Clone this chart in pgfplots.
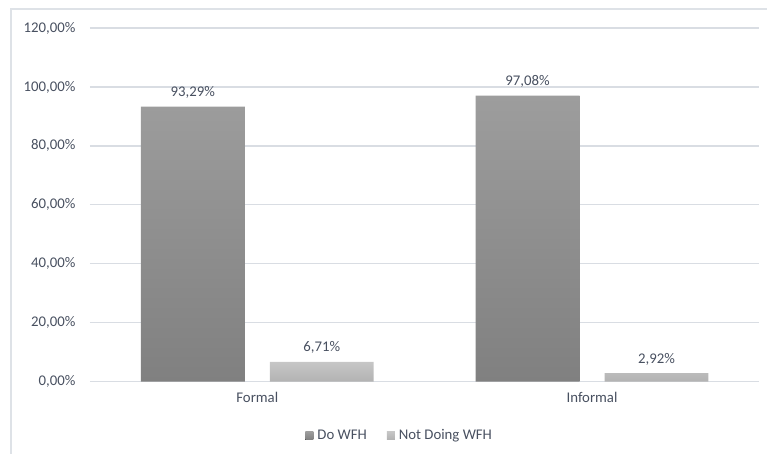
\documentclass[border=0pt]{standalone}
\usepackage{pgfplots}
\pgfplotsset{compat=1.18}
\usepackage{fontspec}
\setmainfont{Carlito}
\definecolor{txt}{RGB}{72,80,96}
\definecolor{gridc}{RGB}{217,221,227}
\definecolor{framec}{RGB}{222,226,231}
\begin{document}
\begin{tikzpicture}
\path (0pt,0pt) rectangle (768pt,454pt);
\draw[framec, line width=1.2pt] (11pt,0pt) -- (11pt,445pt) -- (768pt,445pt);
\begin{axis}[
  at={(90pt,72pt)}, anchor=south west,
  scale only axis, width=670pt, height=354pt,
  ymin=0, ymax=120, ytick={0,20,...,120},
  xmin=-0.5, xmax=1.5, xtick={0,1}, xticklabels={Formal,Informal},
  ybar=25pt, bar width=104pt,
  axis line style={draw=none},
  ymajorgrids=true, xmajorgrids=false,
  grid style={gridc, line width=1.3pt},
  major tick length=0pt,
  /pgf/number format/assume math mode=true,
  tick label style={font=\fontsize{14.8}{16}\selectfont, text=txt},
  yticklabel={\pgfmathprintnumber[fixed,fixed zerofill,precision=2,use comma]{\tick}\%},
  yticklabel style={xshift=-11pt},
  xticklabel style={yshift=-7pt},
  nodes near coords={\pgfmathprintnumber[fixed,fixed zerofill,precision=2,use comma]{\pgfplotspointmeta}\%},
  nodes near coords style={font=\fontsize{14.8}{16}\selectfont, text=txt, anchor=south, inner sep=0pt, yshift=8pt},
  legend style={at={(0.4627,-0.1525)}, anchor=center, legend columns=2, draw=none, fill=none,
    font=\fontsize{14.8}{16}\selectfont, text=txt,
    /tikz/every even column/.append style={column sep=18pt}},
  legend cell align=left,
  legend image code/.code={\fill[#1] (0pt,-4pt) rectangle (8pt,4pt); \path (10pt,0pt);},
]
\addplot[draw=none, top color={rgb,255:red,157;green,157;blue,157}, bottom color={rgb,255:red,128;green,128;blue,128}]
  coordinates {(0,93.29) (1,97.08)};
\addplot[draw=none, top color={rgb,255:red,198;green,198;blue,198}, bottom color={rgb,255:red,178;green,178;blue,178}]
  coordinates {(0,6.71) (1,2.92)};
\legend{Do WFH, Not Doing WFH}
\end{axis}
\end{tikzpicture}
\end{document}
